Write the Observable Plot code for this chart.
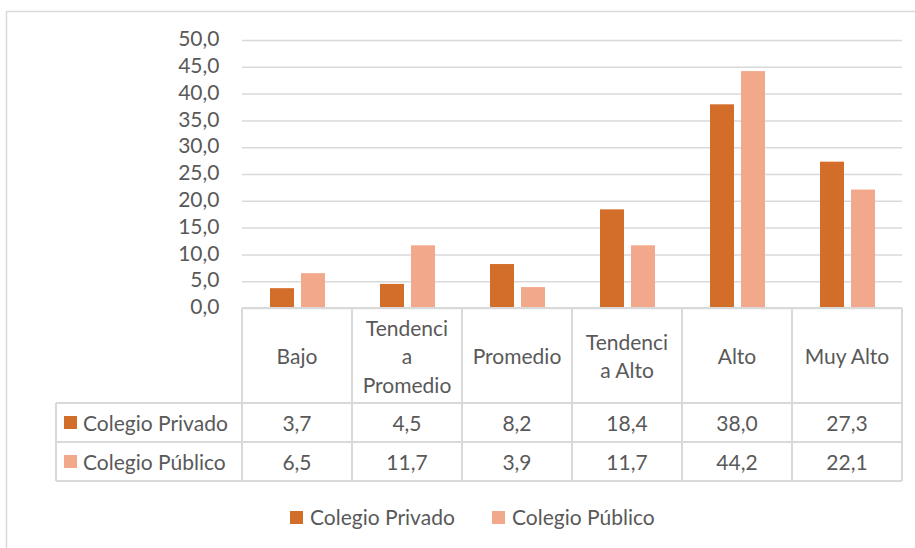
<!DOCTYPE html>
<html><head><meta charset="utf-8">
<script src="https://cdn.jsdelivr.net/npm/d3@7"></script>
<script src="https://cdn.jsdelivr.net/npm/@observablehq/plot@0.6"></script>
<style>body{margin:0;background:#fff} #chart{position:relative;width:915px;height:548px}</style>
</head><body><div id="chart"></div>
<script>
const categories = ["Bajo","Tendencia Promedio","Promedio","Tendencia Alto","Alto","Muy Alto"];
const categoryLines = [["Bajo"],["Tendenci","a","Promedio"],["Promedio"],["Tendenci","a Alto"],["Alto"],["Muy Alto"]];
const series = ["Colegio Privado","Colegio Público"];
const privado = [3.7,4.5,8.2,18.4,38.0,27.3];
const publico = [6.5,11.7,3.9,11.7,44.2,22.1];
const yTicks = [0,5,10,15,20,25,30,35,40,45,50];
const colors = ["#D26D2A","#F2A88B"];

const FONT = "Lato, 'Open Sans', sans-serif";
const FS = 21;
const TXT = "#595959";
const LINE = "#d9d9d9";
const fmt = v => v.toFixed(1).replace(".", ",");

const values = [privado, publico];
const rows = categories.flatMap((c, i) => series.map((s, j) => ({cat: c, serie: s, value: values[j][i]})));

const chart = Plot.plot({
  width: 915, height: 548,
  marginTop: 40, marginBottom: 240, marginLeft: 242, marginRight: 13,
  style: {fontFamily: FONT, fontSize: FS + "px", color: TXT, background: "#fff", overflow: "visible"},
  fx: {domain: categories, padding: 0, axis: null, label: null},
  x: {domain: series, paddingInner: 0.238, paddingOuter: 0.865, axis: null},
  y: {domain: [0, 50], label: null},
  color: {domain: series, range: colors},
  marks: [
    Plot.gridY(yTicks, {stroke: LINE, strokeOpacity: 1, strokeWidth: 1.5}),
    Plot.axisY(yTicks, {tickSize: 0, tickPadding: 23, tickFormat: fmt, fill: TXT, fontSize: FS, label: null, dy: -1}),
    Plot.barY(rows, {fx: "cat", x: "serie", y: "value", fill: "serie"})
  ]
});

const svg = d3.select(chart);
const fx = chart.scale("fx");
const y = chart.scale("y");
const color = chart.scale("color");
const y0 = y.apply(0);
const bw = fx.bandwidth;
const xL = fx.apply(categories[0]);
const xR = fx.apply(categories[categories.length - 1]) + bw;
const leftX = 56;
const hdrBottom = y0 + 95;
const rowH = 39;
const g = svg.append("g").attr("font-family", FONT).attr("font-size", FS).attr("fill", TXT).attr("text-anchor", "start");

// chart outer border
g.append("path").attr("d", "M6.5,548V11.5H915").attr("fill", "none").attr("stroke", LINE).attr("stroke-width", 1.5);

// table lines
const lines = g.append("g").attr("stroke", LINE).attr("stroke-width", 2).attr("fill", "none");
lines.append("line").attr("x1", xL).attr("x2", xR).attr("y1", y0).attr("y2", y0);
[0, 1, 2].forEach(k => {
  lines.append("line").attr("x1", leftX).attr("x2", xR).attr("y1", hdrBottom + k * rowH).attr("y2", hdrBottom + k * rowH);
});
categories.forEach(c => {
  const x = fx.apply(c);
  lines.append("line").attr("x1", x).attr("x2", x).attr("y1", y0).attr("y2", hdrBottom + 2 * rowH);
});
lines.append("line").attr("x1", xR).attr("x2", xR).attr("y1", y0).attr("y2", hdrBottom + 2 * rowH);
lines.append("line").attr("x1", leftX).attr("x2", leftX).attr("y1", hdrBottom).attr("y2", hdrBottom + 2 * rowH);

// header labels
const lh = 28.5;
categories.forEach((c, i) => {
  const cx = fx.apply(c) + bw / 2;
  const ls = categoryLines[i];
  const cy = y0 + 47.5;
  ls.forEach((t, k) => {
    g.append("text").attr("x", cx).attr("y", cy + (k - (ls.length - 1) / 2) * lh)
      .attr("text-anchor", "middle").attr("dominant-baseline", "central").text(t);
  });
});

// data rows
series.forEach((s, j) => {
  const cy = hdrBottom + j * rowH + rowH / 2 - 0.5;
  g.append("rect").attr("x", 64).attr("y", cy - 6).attr("width", 13).attr("height", 13).attr("fill", color.apply(s));
  g.append("text").attr("x", 83).attr("y", cy).attr("text-anchor", "start").attr("dominant-baseline", "central").text(s);
  categories.forEach((c, i) => {
    g.append("text").attr("x", fx.apply(c) + bw / 2).attr("y", cy)
      .attr("text-anchor", "middle").attr("dominant-baseline", "central").text(fmt(values[j][i]));
  });
});

// legend
const legX = [290, 492];
series.forEach((s, j) => {
  g.append("rect").attr("x", legX[j]).attr("y", 511).attr("width", 13).attr("height", 13).attr("fill", color.apply(s));
  g.append("text").attr("x", legX[j] + 20).attr("y", 516.5).attr("text-anchor", "start").attr("dominant-baseline", "central").text(s);
});

document.getElementById("chart").appendChild(chart);
</script>
</body></html>
